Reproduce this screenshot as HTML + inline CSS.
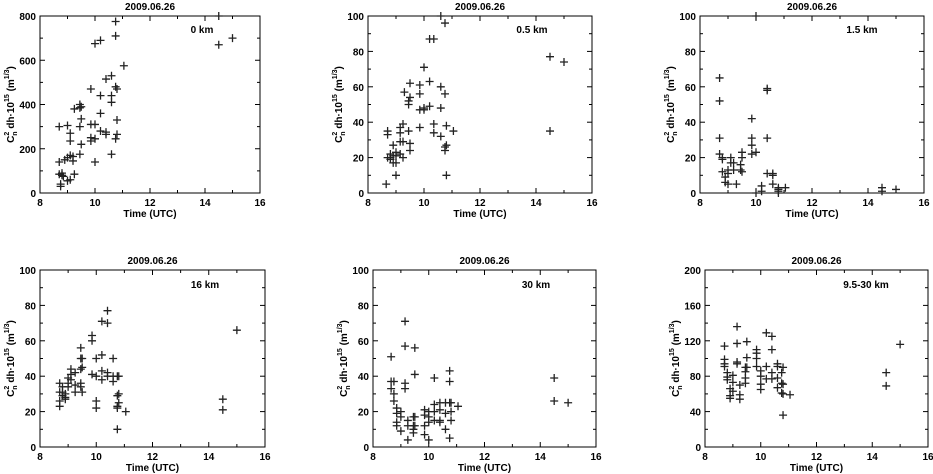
<!DOCTYPE html>
<html><head><meta charset="utf-8"><style>
html,body{margin:0;padding:0;background:#fff;}
svg{display:block;font-family:"Liberation Sans",sans-serif;}
</style></head><body>
<svg id="c" width="933" height="474" viewBox="0 0 933 474"></svg>
<script>
// Panel data: times (UTC hours) and values
const p1T=[8.7,8.7,8.7,8.75,8.75,8.8,8.8,8.85,8.9,9.0,9.0,9.0,9.1,9.1,9.1,9.1,9.2,9.2,9.25,9.25,9.45,9.45,9.45,9.45,9.5,9.5,9.5,9.85,9.85,9.85,9.85,10.0,10.0,10.0,10.0,10.2,10.2,10.2,10.2,10.4,10.4,10.4,10.6,10.6,10.6,10.6,10.75,10.75,10.75,10.75,10.8,10.8,10.8,11.05,14.5,14.5,15.0];
const p1V=[300,140,85,30,40,80,90,75,150,305,160,55,270,235,170,60,165,145,380,85,400,385,300,175,390,335,220,470,310,250,235,675,310,245,140,690,440,360,280,515,275,265,530,440,410,175,775,710,480,245,470,330,265,575,800,670,700];
const p2T=[8.65,8.7,8.7,8.7,8.8,8.8,8.8,8.9,8.9,8.9,9.0,9.0,9.0,9.0,9.15,9.15,9.15,9.15,9.25,9.25,9.25,9.3,9.45,9.45,9.45,9.5,9.5,9.5,9.5,9.85,9.85,9.85,9.85,10.0,10.0,10.0,10.2,10.2,10.2,10.35,10.35,10.35,10.6,10.6,10.6,10.6,10.75,10.75,10.75,10.75,10.8,10.8,10.8,11.05,14.5,14.5,15.0];
const p2V=[5,35,33,20,22,19,20,27,21,17,23,21,17,10,37,34,29,22,39,29,20,57,52,50,35,62,54,28,24,61,56,47,37,71,48,47,87,63,49,87,39,34,100,60,48,32,96,56,26,24,38,27,10,35,77,35,74];
const p3T=[8.7,8.7,8.7,8.7,8.8,8.8,8.8,8.9,8.9,9.0,9.0,9.0,9.1,9.1,9.2,9.2,9.3,9.45,9.45,9.5,9.5,9.5,9.85,9.85,9.85,9.85,10.0,10.0,10.0,10.2,10.2,10.4,10.4,10.4,10.4,10.6,10.6,10.6,10.8,10.8,10.8,10.8,11.05,14.5,14.5,15.0];
const p3V=[65,52,31,22,19,12,20,9,6,13,11,5,17,20,17,13,5,16,13,20,23,12,42,31,27,22,100,23,0,4,1,59,58,31,11,11,10,5,3,2,1,0,3,3,1,2];
const p4T=[8.7,8.7,8.7,8.7,8.8,8.8,8.8,8.9,8.9,8.9,9.0,9.0,9.0,9.1,9.1,9.1,9.25,9.25,9.25,9.45,9.45,9.45,9.45,9.45,9.5,9.5,9.5,9.85,9.85,9.85,10.0,10.0,10.0,10.0,10.2,10.2,10.2,10.2,10.4,10.4,10.4,10.4,10.6,10.6,10.6,10.75,10.75,10.75,10.75,10.75,10.8,10.8,10.8,11.05,14.5,14.5,15.0];
const p4V=[36,31,26,23,34,31,29,30,28,27,39,36,34,44,41,38,42,35,31,56,50,44,36,34,50,45,31,63,60,41,50,40,26,22,71,52,43,38,77,70,42,40,50,40,37,40,29,23,22,10,40,30,25,20,27,21,66];
const p5T=[8.65,8.65,8.65,8.75,8.75,8.75,8.85,8.85,8.85,8.85,9.0,9.0,9.0,9.15,9.15,9.15,9.15,9.25,9.25,9.25,9.45,9.45,9.45,9.45,9.5,9.5,9.5,9.5,9.85,9.85,9.85,9.85,10.0,10.0,10.0,10.0,10.2,10.2,10.2,10.2,10.4,10.4,10.4,10.4,10.6,10.6,10.6,10.75,10.75,10.75,10.75,10.8,10.8,10.8,11.05,14.5,14.5,15.0];
const p5V=[51,37,33,37,30,26,22,19,14,12,20,17,9,71,57,36,33,15,12,4,17,12,10,8,56,41,17,12,21,18,12,7,20,17,14,4,39,24,20,15,25,21,15,14,25,19,10,43,37,25,5,25,20,15,23,39,26,25];
const p6T=[8.7,8.7,8.7,8.7,8.8,8.8,8.8,8.9,8.9,8.9,9.0,9.0,9.0,9.15,9.15,9.15,9.15,9.25,9.25,9.25,9.45,9.45,9.45,9.45,9.5,9.5,9.5,9.85,9.85,9.85,9.85,10.0,10.0,10.0,10.0,10.2,10.2,10.2,10.4,10.4,10.4,10.4,10.6,10.6,10.6,10.6,10.75,10.75,10.75,10.8,10.8,10.8,10.8,11.05,14.5,14.5,15.0];
const p6V=[114,99,94,91,84,79,76,66,58,55,81,73,63,136,117,96,94,70,59,54,90,85,78,72,119,101,90,110,106,100,91,86,80,71,65,129,91,77,125,110,84,77,94,91,78,67,84,72,61,90,71,60,36,59,84,69,116];
const xTicks=[8,10,12,14,16];
const labels=["0 km","0.5 km","1.5 km","16 km","30 km","9.5-30 km"];
const yMaxes=[800,100,100,100,100,200];
const yStepMajor=[200,20,20,20,20,40];

const panels=[
 {l:40,r:260,t:16,b:193,T:p1T,V:p1V,lx:202,ly:33},
 {l:368,r:592,t:16,b:193,T:p2T,V:p2V,lx:532,ly:33},
 {l:700,r:924,t:16,b:193,T:p3T,V:p3V,lx:862,ly:33},
 {l:40,r:265,t:270,b:447,T:p4T,V:p4V,lx:205,ly:288},
 {l:373,r:596,t:270,b:447,T:p5T,V:p5V,lx:536,ly:288},
 {l:705,r:928,t:270,b:447,T:p6T,V:p6V,lx:866,ly:288}
];
const NS="http://www.w3.org/2000/svg";
const svg=document.getElementById('c');
function mk(tag,attrs,parent){const e=document.createElementNS(NS,tag);for(const k in attrs)e.setAttribute(k,attrs[k]);(parent||svg).appendChild(e);return e;}
panels.forEach((p,i)=>{
 const g=mk('g',{});
 
 
 const ymax=yMaxes[i];
 const X=t=>p.l+(t-8)/8*(p.r-p.l);
 const Y=v=>p.b-v/ymax*(p.b-p.t);
 const fr=mk('rect',{x:p.l,y:p.t,width:p.r-p.l,height:p.b-p.t,fill:'none',stroke:'#000','stroke-width':1},g);
 
 
 for(let t=8;t<=16;t+=1){const L=(t%2==0)?5:3;
  mk('line',{x1:X(t),x2:X(t),y1:p.b,y2:p.b-L,stroke:'#000'},g);
  mk('line',{x1:X(t),x2:X(t),y1:p.t,y2:p.t+L,stroke:'#000'},g);}
 xTicks.forEach(t=>{const tx=mk('text',{x:X(t),y:p.b+13,'text-anchor':'middle','font-size':10,'font-weight':'bold'},g);tx.textContent=t;
  
  });
 const ms=yStepMajor[i];
 for(let v=0;v<=ymax+1e-9;v+=ms/2){const major=Math.abs(v/ms-Math.round(v/ms))<1e-6;const L=major?5:3;
  mk('line',{x1:p.l,x2:p.l+L,y1:Y(v),y2:Y(v),stroke:'#000'},g);
  mk('line',{x1:p.r,x2:p.r-L,y1:Y(v),y2:Y(v),stroke:'#000'},g);
  if(major){const ty=mk('text',{x:p.l-4,y:Y(v)+4,'text-anchor':'end','font-size':10,'font-weight':'bold'},g);ty.textContent=Math.round(v);
   
   }}
 const title=mk('text',{x:(p.l+p.r)/2,y:p.t-6,'text-anchor':'middle','font-size':10,'font-weight':'bold'},g);
 title.textContent='2009.06.26';
 
 
 const xl=mk('text',{x:(p.l+p.r)/2,y:p.b+24,'text-anchor':'middle','font-size':10,'font-weight':'bold'},g);
 xl.textContent='Time (UTC)';
 
 
 const cy=(p.t+p.b)/2;
 const yl=mk('text',{x:0,y:0,'text-anchor':'middle','font-size':10,'font-weight':'bold',transform:`translate(${p.l-26},${cy}) rotate(-90)`},g);
 yl.innerHTML='C<tspan font-size="7" dy="-5">2</tspan><tspan font-size="7" dx="-4" dy="8">n</tspan><tspan dy="-3"> dh·10</tspan><tspan font-size="7" dy="-5">15</tspan><tspan dy="5"> (m</tspan><tspan font-size="7" dy="-5">1/3</tspan><tspan dy="5">)</tspan>';
 
 
 const an=mk('text',{x:p.lx,y:p.ly,'text-anchor':'middle','font-size':10,'font-weight':'bold'},g);
 an.textContent=labels[i];
 
 
 p.T.forEach((t,k)=>{const x=X(t),y=Y(p.V[k]);
  const m=mk('path',{d:`M${x-4},${y}H${x+4}M${x},${y-4}V${y+4}`,stroke:'#222','stroke-width':1.3,fill:'none'},g);
  
  });
});
</script>
</body></html>
